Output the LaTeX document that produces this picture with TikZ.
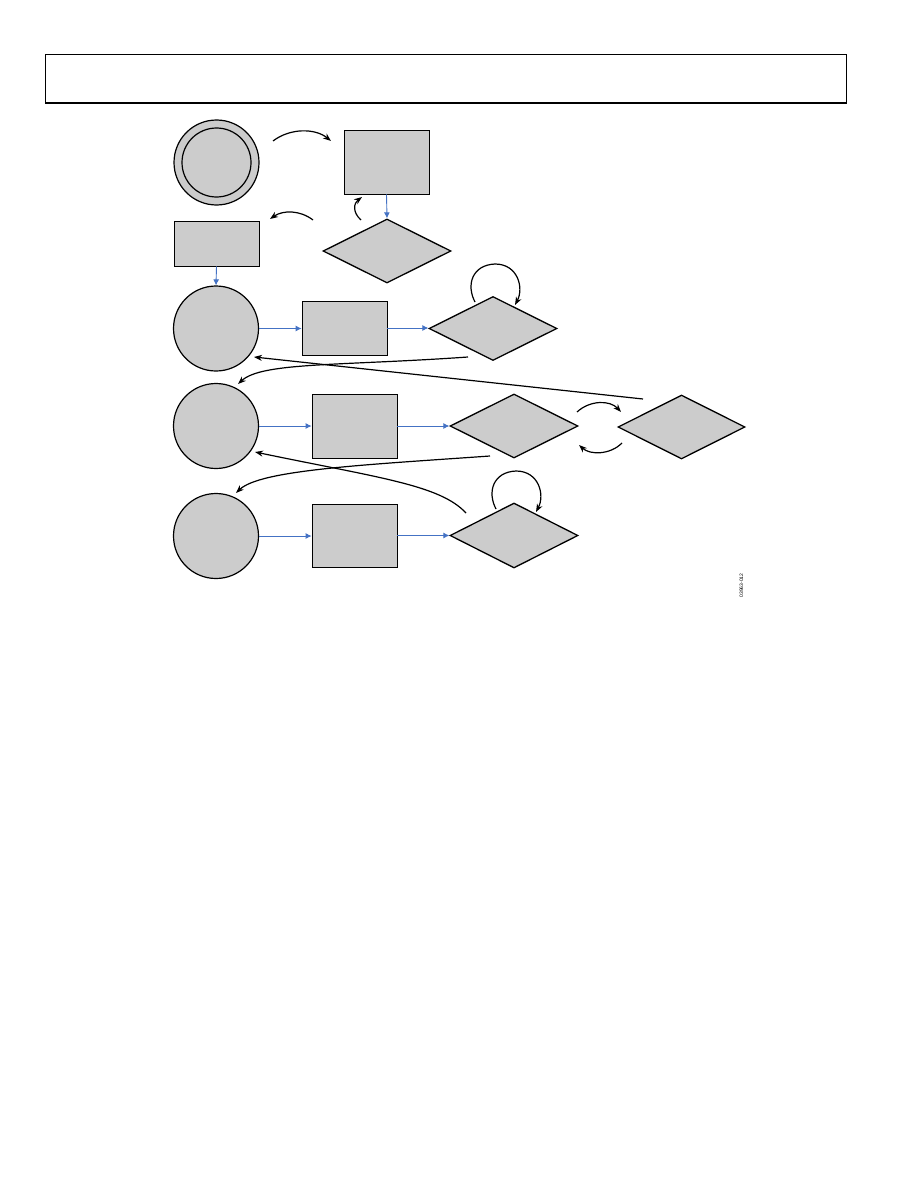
\documentclass[tikz,border=0pt]{standalone}
\usepackage{fontspec}
\newfontfamily\figfont{Liberation Sans}
\usetikzlibrary{shapes.geometric,arrows.meta}
\definecolor{gfill}{RGB}{204,204,204}
\definecolor{flowblue}{RGB}{68,114,196}
\begin{document}
\begin{tikzpicture}[x=1pt,y=-1pt,
  shp/.style={draw=black,fill=gfill,line width=1.2pt,inner sep=0pt},
  circ/.style={shp,circle,minimum size=85pt},
  boxr/.style={shp,rectangle,line width=0.8pt,minimum width=85pt},
  dia/.style={shp,diamond,line width=1.3pt,minimum width=128pt,minimum height=64pt},
  flow/.style={draw=flowblue,line width=0.9pt,-{Latex[length=6pt,width=6pt]}},
  curv/.style={draw=black,line width=1.2pt,-{Stealth[length=8pt,width=6pt]}},
]
\useasboundingbox (0,0) rectangle (918,1188);
\fill[white] (0,0) rectangle (918,1188);
% header
\draw[line width=0.8pt] (45,104) -- (45,54) -- (846,54) -- (846,104);
\draw[line width=2pt] (45,103.5) -- (846,103.5);
% nodes
\node[circ] (dc) at (216.5,162.5) {};
\node[draw=black,line width=1.2pt,circle,minimum size=69pt,inner sep=0pt] (dci) at (dc) {};
\node[boxr,minimum height=64pt] (b1) at (386.5,162) {};
\node[boxr,minimum height=45pt] (b2) at (216.5,243.5) {};
\node[dia] (d1) at (387,251) {};
\node[circ] (c2) at (216,328.5) {};
\node[boxr,minimum height=54pt] (b3) at (344.5,328) {};
\node[dia] (d2) at (493,328.5) {};
\node[circ] (c3) at (216,426) {};
\node[boxr,minimum height=64pt] (b4) at (354.5,426) {};
\node[dia] (d3) at (514,426) {};
\node[dia,minimum width=127pt] (d4) at (681.5,427) {};
\node[circ] (c4) at (216,536) {};
\node[boxr,minimum height=63pt] (b5) at (354.5,535.5) {};
\node[dia,minimum height=65pt] (d5) at (514,535.5) {};
% blue flow connectors
\draw[flow] (b1.south) -- (d1.north);
\draw[flow] (b2.south) -- (c2.north);
\draw[flow] (c2.east) -- (c2.east -| b3.west);
\draw[flow] (b3.east) -- (b3.east -| d2.west);
\draw[flow] (c3.east) -- (c3.east -| b4.west);
\draw[flow] (b4.east) -- (b4.east -| d3.west);
\draw[flow] (c4.east) -- (c4.east -| b5.west);
\draw[flow] (b5.east) -- (b5.east -| d5.west);
% free-end coordinates
\coordinate (p1s) at (273,141);  \coordinate (p1e) at (331,141);
\coordinate (p2s) at (313,220);  \coordinate (p2e) at (270,219);
\coordinate (p3s) at (361,220);  \coordinate (p3e) at (362,197);
\coordinate (l2s) at (475,302);  \coordinate (l2e) at (515,305);
\coordinate (l5s) at (496,509);  \coordinate (l5e) at (536,512);
\coordinate (as) at (468,357);   \coordinate (ae) at (238,384);
\coordinate (bs) at (643,399);   \coordinate (be) at (254,357);
\coordinate (cs) at (490,456);   \coordinate (ce) at (236,493);
\coordinate (ds) at (466,513);   \coordinate (de) at (255,452);
\coordinate (us) at (577,412);   \coordinate (ue) at (621,412);
\coordinate (ws) at (622,443);   \coordinate (we) at (579,445);
% black curved connectors
\draw[curv] (p1s) .. controls (290,128) and (315,128) .. (p1e);
\draw[curv] (p2s) .. controls (300,210) and (283,210) .. (p2e);
\draw[curv] (p3s) .. controls (352,212) and (354,203) .. (p3e);
\draw[curv] (l2s) .. controls (466,285) and (472,265) .. (495,264) .. controls (518,264) and (524,288) .. (l2e);
\draw[curv] (l5s) .. controls (487,492) and (493,472) .. (516,471) .. controls (539,471) and (545,495) .. (l5e);
\draw[curv] (as) .. controls (340,366) and (262,362) .. (ae);
\draw[curv] (bs) -- (be);
\draw[curv] (cs) .. controls (362,465) and (260,470) .. (ce);
\draw[curv] (ds) .. controls (440,485) and (380,478) .. (de);
\draw[curv] (us) .. controls (590,400) and (610,400) .. (ue);
\draw[curv] (ws) .. controls (610,455) and (590,455) .. (we);
% label
\node[rotate=90,font=\figfont\fontsize{5}{6}\selectfont,inner sep=0pt] (lbl) at (741.5,585.5) {03963-012};
\end{tikzpicture}
\end{document}
